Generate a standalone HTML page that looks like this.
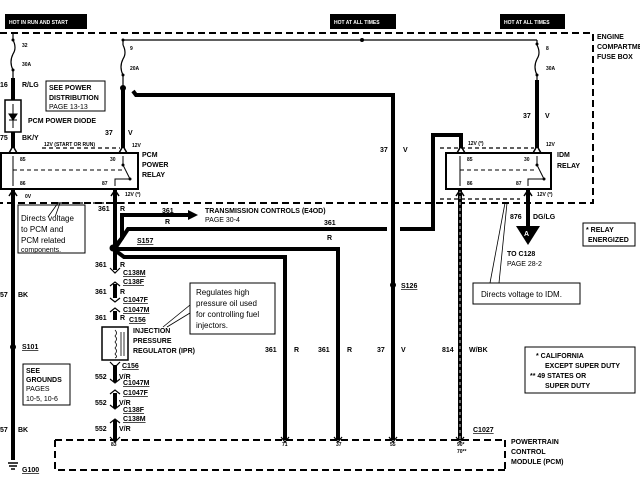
<!DOCTYPE html>
<html><head><meta charset="utf-8"><style>
html,body{margin:0;padding:0;background:#fff;}
svg{display:block;}
text{font-family:"Liberation Sans",sans-serif;font-size:7px;font-weight:bold;fill:#000;}
.n{font-weight:normal;}
.s{font-size:5px;}
.u{text-decoration:underline;}
</style></head><body>
<svg width="640" height="480" viewBox="0 0 640 480">
<g stroke="#000" stroke-width="2" fill="none" stroke-dasharray="7,4">
<path d="M0 33 H593 V203 H0"/>
<path d="M55 440 H505 M55 440 V470 H505 M505 440 V470"/>
</g>
<rect x="5" y="14" width="82" height="15" fill="#000"/>
<text x="9" y="24" style="fill:#fff;font-size:5px">HOT IN RUN AND START</text>
<rect x="330" y="14" width="66" height="15" fill="#000"/>
<text x="334" y="24" style="fill:#fff;font-size:5px">HOT AT ALL TIMES</text>
<rect x="500" y="14" width="65" height="15" fill="#000"/>
<text x="504" y="24" style="fill:#fff;font-size:5px">HOT AT ALL TIMES</text>
<text x="597" y="39">ENGINE</text><text x="597" y="49">COMPARTMENT</text><text x="597" y="59">FUSE BOX</text>

<g stroke="#000" stroke-width="1.2" fill="none">
<path d="M13 33 V40 M123 40 H537 M123 40 V45 M537 40 V45"/>
<path d="M13 40 q4 8 0 14 q-4 8 0 16"/>
<path d="M123 45 q4 8 0 14 q-4 8 0 16"/>
<path d="M537 45 q4 8 0 14 q-4 8 0 16"/>
<path d="M13 70 V78 M123 75 V88 M537 75 V80"/>
<path d="M42 148 H120 M440 148 H534" stroke-dasharray="4,3"/>
<path d="M58 203 H135 M440 199 H520" stroke-dasharray="4,3"/>
</g>
<circle cx="362" cy="40" r="2"/><circle cx="123" cy="40" r="1.5"/><circle cx="537" cy="44" r="1.5"/>
<circle cx="13" cy="40" r="1.5"/><circle cx="13" cy="70" r="1.5"/><circle cx="123" cy="75" r="1.5"/><circle cx="537" cy="75" r="1.5"/>
<circle cx="123" cy="88" r="3"/>

<g stroke="#000" stroke-width="4" fill="none">
<path d="M13 78 V100 M13 132 V148"/>
<path d="M123 88 V148"/>
<path d="M133 91 L136 95 H393 V440"/>
<path d="M537 80 V148"/>
<path d="M13 190 V460"/>
<path d="M115 190 V270 M115 284 V298 M115 311 V320 M115 365 V382 M115 393 V408 M115 420 V440"/>
<path d="M116 245 L122 238 V215 H190"/>
<path d="M116 247 L128 229 H387 M400 229 H433 V135 H461 V148"/>
<path d="M116 249 H338 V440"/>
<path d="M116 251 L124 257 H285 V440"/>
<path d="M460 190 V440"/>
<path d="M528 190 V228"/>
</g>
<polygon points="188,210 198,215 188,220" fill="#000"/>
<path d="M460 190 V440" stroke="#fff" stroke-width="0.8" stroke-dasharray="3,3"/>
<circle cx="113" cy="248" r="3.5"/>
<circle cx="13" cy="347" r="3"/><circle cx="393" cy="285" r="3"/>
<polygon points="516,226 540,226 528,245" fill="#000"/>
<text x="524" y="236" style="fill:#fff">A</text>

<rect x="5" y="100" width="16" height="32" fill="#fff" stroke="#000" stroke-width="1.5"/>
<path d="M9 114 H17 L13 120 Z M9 120 H17 M13 104 V128" stroke="#000" fill="#000" stroke-width="1"/>

<rect x="1" y="153" width="137" height="36" fill="#fff" stroke="#000" stroke-width="2"/>
<g stroke="#000" stroke-width="1" fill="none">
<path d="M13 156 V186 M123 156 V165 L130 179 M115 186 V179 H130"/>
<path d="M13 170 H123" stroke-dasharray="4,3"/>
<path d="M13 146 L9 153 M13 146 L17 153 M123 146 L119 153 M123 146 L127 153 M13 190 L9 196 M13 190 L17 196 M115 190 L111 196 M115 190 L119 196" stroke-width="1.5"/>
</g>
<circle cx="123" cy="165" r="1.5"/><circle cx="130" cy="179" r="1.5"/>
<text class="s" x="20" y="161">85</text><text class="s" x="20" y="185">86</text>
<text class="s" x="110" y="161">30</text><text class="s" x="102" y="185">87</text>
<text x="142" y="157">PCM</text><text x="142" y="167">POWER</text><text x="142" y="177">RELAY</text>
<text class="s" x="44" y="146">12V (START OR RUN)</text><text class="s" x="132" y="147">12V</text>
<text class="s" x="25" y="198">0V</text><text class="s" x="125" y="196">12V (*)</text>

<rect x="446" y="153" width="105" height="36" fill="#fff" stroke="#000" stroke-width="2"/>
<g stroke="#000" stroke-width="1" fill="none">
<path d="M460 156 V186 M537 156 V165 L544 179 M528 186 V179 H544"/>
<path d="M460 170 H537" stroke-dasharray="4,3"/>
<path d="M461 146 L457 153 M461 146 L465 153 M537 146 L533 153 M537 146 L541 153 M460 190 L456 196 M460 190 L464 196 M528 190 L524 196 M528 190 L532 196" stroke-width="1.5"/>
</g>
<circle cx="537" cy="165" r="1.5"/><circle cx="544" cy="179" r="1.5"/>
<text class="s" x="467" y="161">85</text><text class="s" x="467" y="185">86</text>
<text class="s" x="524" y="161">30</text><text class="s" x="516" y="185">87</text>
<text x="557" y="157">IDM</text><text x="557" y="168">RELAY</text>
<text class="s" x="468" y="145">12V (*)</text><text class="s" x="546" y="146">12V</text>
<text class="s" x="537" y="196">12V (*)</text>

<text class="s" x="22" y="47">32</text><text class="s" x="22" y="66">30A</text>
<text class="s" x="130" y="50">9</text><text class="s" x="130" y="70">20A</text>
<text class="s" x="546" y="50">8</text><text class="s" x="546" y="70">30A</text>
<text x="0" y="87">16</text><text x="22" y="87">R/LG</text>
<text x="28" y="123">PCM POWER DIODE</text>
<text x="0" y="140">75</text><text x="22" y="140">BK/Y</text>
<rect x="46" y="81" width="59" height="30" fill="#fff" stroke="#000"/>
<text x="49" y="90">SEE POWER</text><text x="49" y="100">DISTRIBUTION</text><text class="n" x="49" y="109">PAGE 13-13</text>
<text x="105" y="135">37</text><text x="128" y="135">V</text>
<text x="380" y="152">37</text><text x="403" y="152">V</text>
<text x="523" y="118">37</text><text x="545" y="118">V</text>

<rect x="18" y="205" width="67" height="48" fill="#fff" stroke="#000"/>
<path d="M58 203 L48 217 M60 203 L55 217" stroke="#000" stroke-width="0.8"/>
<text class="n" x="21" y="221" style="font-size:8px">Directs voltage</text>
<text class="n" x="21" y="232" style="font-size:8px">to PCM and</text>
<text class="n" x="21" y="243" style="font-size:8px">PCM related</text>
<text class="n" x="21" y="252" style="font-size:7px">components.</text>

<text x="98" y="211">361</text><text x="120" y="211">R</text>
<text x="162" y="213">361</text><text x="205" y="213">TRANSMISSION CONTROLS (E4OD)</text>
<text class="n" x="205" y="222">PAGE 30-4</text>
<text x="165" y="224">R</text><text x="324" y="225">361</text><text x="327" y="240">R</text>
<text class="u" x="137" y="243">S157</text>

<text x="0" y="297">57</text><text x="18" y="297">BK</text>
<text x="0" y="432">57</text><text x="18" y="432">BK</text>
<text class="u" x="22" y="349">S101</text>
<rect x="23" y="364" width="47" height="41" fill="#fff" stroke="#000"/>
<text x="26" y="373">SEE</text><text x="26" y="382">GROUNDS</text><text class="n" x="26" y="391">PAGES</text><text class="n" x="26" y="401">10-5, 10-6</text>
<path d="M8 463 H18 M9 466 H17 M11 469 H15" stroke="#000" stroke-width="1.5"/>
<text class="u" x="22" y="472">G100</text>

<g stroke="#000" stroke-width="1.2" fill="none">
<path d="M110 268 L115 273 L120 268 M110 286 L115 282 L120 286 M110 298 L115 302 L120 298 M110 312 L115 308 L120 312 M110 379 L115 383 L120 379 M110 394 L115 390 L120 394 M110 405 L115 409 L120 405 M110 423 L115 419 L120 423 M110 437 L115 442 L120 437 M281 437 L285 442 L289 437 M334 437 L338 442 L342 437 M389 437 L393 442 L397 437 M456 437 L460 442 L464 437 M110 362 L115 367 L120 362"/>
</g>
<text x="95" y="267">361</text><text x="120" y="267">R</text>
<text class="u" x="123" y="275">C138M</text><text class="u" x="123" y="284">C138F</text>
<text x="95" y="294">361</text><text x="120" y="294">R</text>
<text class="u" x="123" y="302">C1047F</text><text class="u" x="123" y="312">C1047M</text>
<text x="95" y="320">361</text><text x="120" y="320">R</text><text class="u" x="129" y="322">C156</text>
<rect x="102" y="327" width="26" height="33" fill="#fff" stroke="#000" stroke-width="1.5"/>
<path d="M115 330 q3 3 0 6 q3 3 0 6 q3 3 0 6 q3 3 0 6 q3 3 0 4 M121 332 V356 M124 332 V356" stroke="#000" fill="none" stroke-width="0.8"/>
<text x="133" y="333">INJECTION</text><text x="133" y="343">PRESSURE</text><text x="133" y="353">REGULATOR (IPR)</text>
<text class="u" x="122" y="368">C156</text>
<text x="95" y="379">552</text><text x="119" y="379">V/R</text>
<text class="u" x="123" y="385">C1047M</text><text class="u" x="123" y="395">C1047F</text>
<text x="95" y="405">552</text><text x="119" y="405">V/R</text>
<text class="u" x="123" y="412">C138F</text><text class="u" x="123" y="421">C138M</text>
<text x="95" y="431">552</text><text x="119" y="431">V/R</text>

<rect x="190" y="283" width="85" height="51" fill="#fff" stroke="#000"/>
<path d="M190 305 L163 327 M190 313 L167 327" stroke="#000" stroke-width="0.8"/>
<text class="n" x="196" y="295" style="font-size:8px">Regulates high</text>
<text class="n" x="196" y="306" style="font-size:8px">pressure oil used</text>
<text class="n" x="196" y="317" style="font-size:8px">for controlling fuel</text>
<text class="n" x="196" y="328" style="font-size:8px">injectors.</text>

<text x="265" y="352">361</text><text x="294" y="352">R</text>
<text x="318" y="352">361</text><text x="347" y="352">R</text>
<text x="377" y="352">37</text><text x="401" y="352">V</text>
<text x="442" y="352">814</text><text x="469" y="352">W/BK</text>
<text class="u" x="401" y="288">S126</text>

<text class="s" x="111" y="446">83</text><text class="s" x="282" y="446">71</text>
<text class="s" x="336" y="446">37</text><text class="s" x="390" y="446">55</text>
<text class="s" x="457" y="446">90*</text><text class="s" x="457" y="453">70**</text>
<text class="u" x="473" y="432">C1027</text>
<text x="511" y="444">POWERTRAIN</text><text x="511" y="454">CONTROL</text><text x="511" y="464">MODULE (PCM)</text>

<text x="510" y="219">876</text><text x="533" y="219">DG/LG</text>
<text x="507" y="256">TO C128</text><text class="n" x="507" y="266">PAGE 28-2</text>
<rect x="473" y="283" width="107" height="21" fill="#fff" stroke="#000"/>
<path d="M505 203 L490 283 M507 203 L499 283" stroke="#000" stroke-width="0.8"/>
<text class="n" x="481" y="297" style="font-size:8px">Directs  voltage to IDM.</text>

<rect x="583" y="223" width="52" height="23" fill="#fff" stroke="#000"/>
<text x="586" y="232">* RELAY</text><text x="588" y="242">ENERGIZED</text>
<rect x="525" y="347" width="110" height="46" fill="#fff" stroke="#000"/>
<text x="536" y="358">*  CALIFORNIA</text><text x="545" y="368">EXCEPT SUPER DUTY</text>
<text x="530" y="378">**  49 STATES OR</text><text x="545" y="388">SUPER DUTY</text>
</svg>
</body></html>
